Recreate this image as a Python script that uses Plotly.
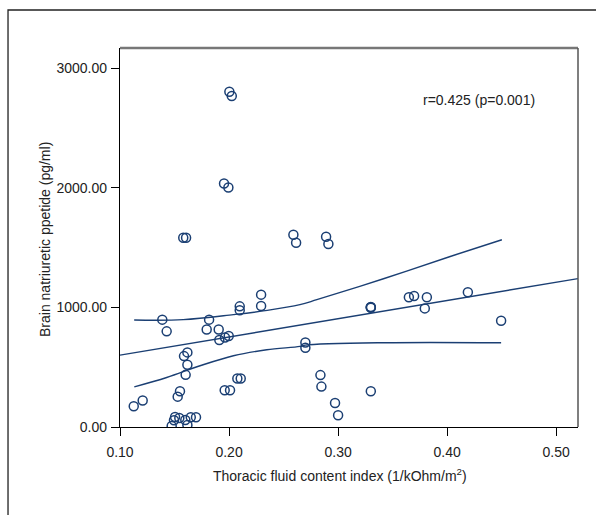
import plotly.graph_objects as go

# Scatter data
tfc_index = [0.1126, 0.1208, 0.1388, 0.1428, 0.1474, 0.1495, 0.1505, 0.1544, 0.1599,
             0.1529, 0.1550, 0.1580, 0.1606, 0.1587, 0.1602, 0.1618, 0.1618, 0.1618,
             0.1649, 0.1697, 0.1795, 0.1817, 0.1905, 0.1911, 0.1954, 0.1963, 0.1997,
             0.1994, 0.1960, 0.2009, 0.2003, 0.2025, 0.2076, 0.2107, 0.2098, 0.2098,
             0.2294, 0.2294, 0.2590, 0.2615, 0.2700, 0.2700, 0.2838, 0.2847, 0.2890,
             0.2911, 0.2972, 0.3000, 0.3300, 0.3300, 0.3300, 0.3300, 0.3649, 0.3697,
             0.3795, 0.3814, 0.4190, 0.4495]
bnp = [174, 221, 898, 800, 8, 56, 84, 75, 59,
       254, 299, 1583, 1583, 593, 436, 624, 520, 17,
       81, 81, 816, 898, 816, 727, 2036, 749, 761,
       2003, 308, 308, 2804, 2768, 405, 405, 1009, 976,
       1107, 1012, 1608, 1541, 707, 663, 434, 338, 1591,
       1530, 201, 98, 299, 1001, 1004, 998, 1085, 1096,
       992, 1085, 1127, 889]

# Regression line
fit_x = [0.10, 0.52]
fit_y = [601, 1241]

# Confidence band curves
upper_x = [0.113, 0.158, 0.204, 0.235, 0.265, 0.2805, 0.3416, 0.4028, 0.4502]
upper_y = [895, 898, 940, 975, 1023, 1065, 1240, 1426, 1566]
lower_x = [0.1131, 0.1428, 0.1734, 0.204, 0.2346, 0.265, 0.27, 0.3416, 0.4495]
lower_y = [336, 414, 512, 596, 646, 674, 685, 705, 705]

x_ticks = [0.10, 0.20, 0.30, 0.40, 0.50]
y_ticks = [0, 1000, 2000, 3000]

NAVY = "#1b3f73"
FONT = "Liberation Sans, Arial, sans-serif"
TXT = "#222"
FS = 14

fig = go.Figure()
fig.add_trace(go.Scatter(x=fit_x, y=fit_y, mode="lines",
                         line=dict(color=NAVY, width=1.4), hoverinfo="skip"))
fig.add_trace(go.Scatter(x=upper_x, y=upper_y, mode="lines",
                         line=dict(color=NAVY, width=1.4, shape="spline"), hoverinfo="skip"))
fig.add_trace(go.Scatter(x=lower_x, y=lower_y, mode="lines",
                         line=dict(color=NAVY, width=1.4, shape="spline"), hoverinfo="skip"))
fig.add_trace(go.Scatter(x=tfc_index, y=bnp, mode="markers",
                         marker=dict(symbol="circle-open", size=9, color=NAVY,
                                     line=dict(color=NAVY, width=1.5))))

axis_common = dict(showgrid=False, zeroline=False, showline=True, linecolor="black",
                   linewidth=1.3, ticks="outside", ticklen=8, tickcolor="black",
                   tickwidth=1.2, tickformat=".2f",
                   tickfont=dict(family=FONT, size=FS, color=TXT))

fig.update_layout(
    width=596, height=515,
    margin=dict(l=120, r=18, t=48, b=88),
    paper_bgcolor="white", plot_bgcolor="white",
    showlegend=False,
    xaxis=dict(range=[0.1, 0.52], tickvals=x_ticks, ticklabelstandoff=4, **axis_common),
    yaxis=dict(range=[0, 3170], tickvals=y_ticks, ticklabelstandoff=1, **axis_common),
    font=dict(family=FONT, color=TXT),
)

# plot box top and right borders
fig.add_shape(type="line", xref="paper", yref="paper", x0=0, x1=1, y0=1, y1=1,
              line=dict(color="#777", width=2.5))
fig.add_shape(type="line", xref="paper", yref="paper", x0=1, x1=1, y0=0, y1=1,
              line=dict(color="#555", width=1.5))
# outer frame
fig.add_shape(type="rect", xref="paper", yref="paper", x0=-0.2445, x1=1.2, y0=-0.3, y1=1.1003,
              line=dict(color="#222", width=1.3), layer="below")

fig.add_annotation(text="r=0.425 (p=0.001)", xref="paper", yref="paper",
                   x=(479 - 120) / 458, y=(427 - 100) / 379, xanchor="center", yanchor="middle",
                   showarrow=False, font=dict(family=FONT, size=FS, color=TXT))
fig.add_annotation(text="Thoracic fluid content index (1/kOhm/m<sup>2</sup>)",
                   xref="paper", yref="paper", x=(340 - 120) / 458, y=(427 - 475) / 379,
                   xanchor="center", yanchor="middle",
                   showarrow=False, font=dict(family=FONT, size=FS, color=TXT))
fig.add_annotation(text="Brain natriuretic ppetide (pg/ml)", textangle=-90,
                   xref="paper", yref="paper", x=(45 - 120) / 458, y=(427 - 240) / 379,
                   xanchor="center", yanchor="middle",
                   showarrow=False, font=dict(family=FONT, size=FS, color=TXT))

fig.write_html("out.html")
